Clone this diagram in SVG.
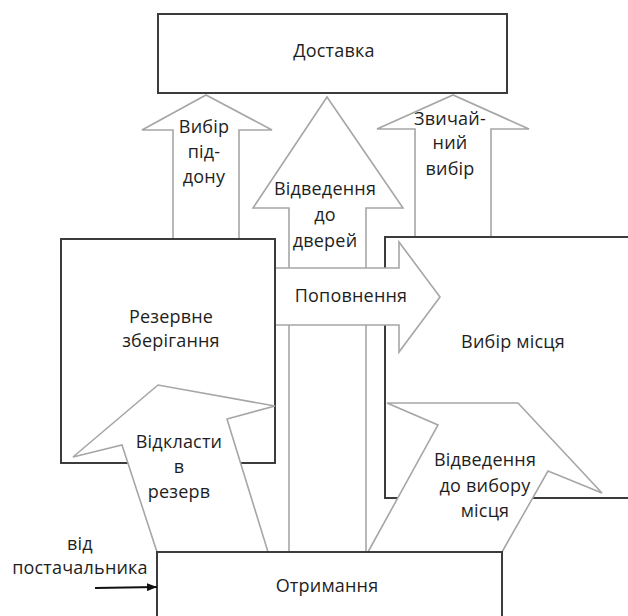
<svg xmlns="http://www.w3.org/2000/svg" width="628" height="616" viewBox="0 0 628 616">
<defs>
<style>
.box{fill:#fff;stroke:#3c3c3c;stroke-width:2}
.arr{fill:#fff;stroke:#a6a6a6;stroke-width:1.6;stroke-linejoin:miter}
text{font-family:"Open Sans","Noto Sans","DejaVu Sans",sans-serif;font-size:18px;letter-spacing:0.2px;fill:#1e1e1e;text-anchor:middle}
</style>
<marker id="ah" markerWidth="10" markerHeight="8" refX="10" refY="4" orient="auto" markerUnits="userSpaceOnUse">
<path d="M0,0 L10,4 L0,8 Z" fill="#111"/>
</marker>
</defs>
<rect width="628" height="616" fill="#fff"/>
<g id="dostavka">
<rect class="box" x="158" y="14" width="349" height="79"/>
<text x="334" y="57">Доставка</text>
</g>
<g id="rezerv">
<rect class="box" x="61" y="239" width="214" height="224"/>
<text x="171" y="323">Резервне</text>
<text x="171" y="347">зберігання</text>
</g>
<g id="vybir-mistsia">
<rect class="box" x="385" y="237" width="260" height="261"/>
<text x="513" y="348">Вибір місця</text>
</g>
<g id="vybir-piddonu">
<path class="arr" d="M173,238 L173,130 L142,130 L206,95 L272,130 L239,130 L239,238"/>
<text x="204" y="133">Вибір</text>
<text x="204" y="158">під-</text>
<text x="204" y="183">дону</text>
</g>
<g id="zvychainyi-vybir">
<path class="arr" d="M415,236 L415,129 L377,129 L453,95 L529,129 L491,129 L491,236"/>
<text x="450" y="125">Звичай-</text>
<text x="450" y="149">ний</text>
<text x="450" y="175">вибір</text>
</g>
<g id="vidvedennia-do-dverei">
<path class="arr" d="M289,552 L289,208 L253,208 L327,97 L403,208 L366,208 L366,552"/>
<text x="325" y="195">Відведення</text>
<text x="325" y="221">до</text>
<text x="325" y="247">дверей</text>
</g>
<g id="popovnennia">
<path class="arr" d="M276,268 L399,268 L399,242 L440,297 L399,352 L399,325 L276,325"/>
<text x="351" y="302">Поповнення</text>
</g>
<g id="vidklasty-v-rezerv">
<path class="arr" d="M157,552 L122,445 L73,457 L158,385 L275,406 L227,419 L268,552"/>
<text x="179" y="448">Відкласти</text>
<text x="179" y="473">в</text>
<text x="179" y="498">резерв</text>
</g>
<g id="vidvedennia-do-vyboru">
<path class="arr" d="M368,552 L438,425 L387,403 L518,403 L602,493 L548,471 L502,552"/>
<text x="485" y="466">Відведення</text>
<text x="485" y="492">до вибору</text>
<text x="485" y="517">місця</text>
</g>
<g id="otrymannia">
<rect class="box" x="157" y="552" width="345" height="80"/>
<text x="327" y="592">Отримання</text>
</g>
<g id="connectors">
<line x1="95" y1="588" x2="157" y2="587" stroke="#111" stroke-width="1.8" marker-end="url(#ah)"/>
<text x="80" y="550">від</text>
<text x="80" y="574">постачальника</text>
</g>
</svg>
